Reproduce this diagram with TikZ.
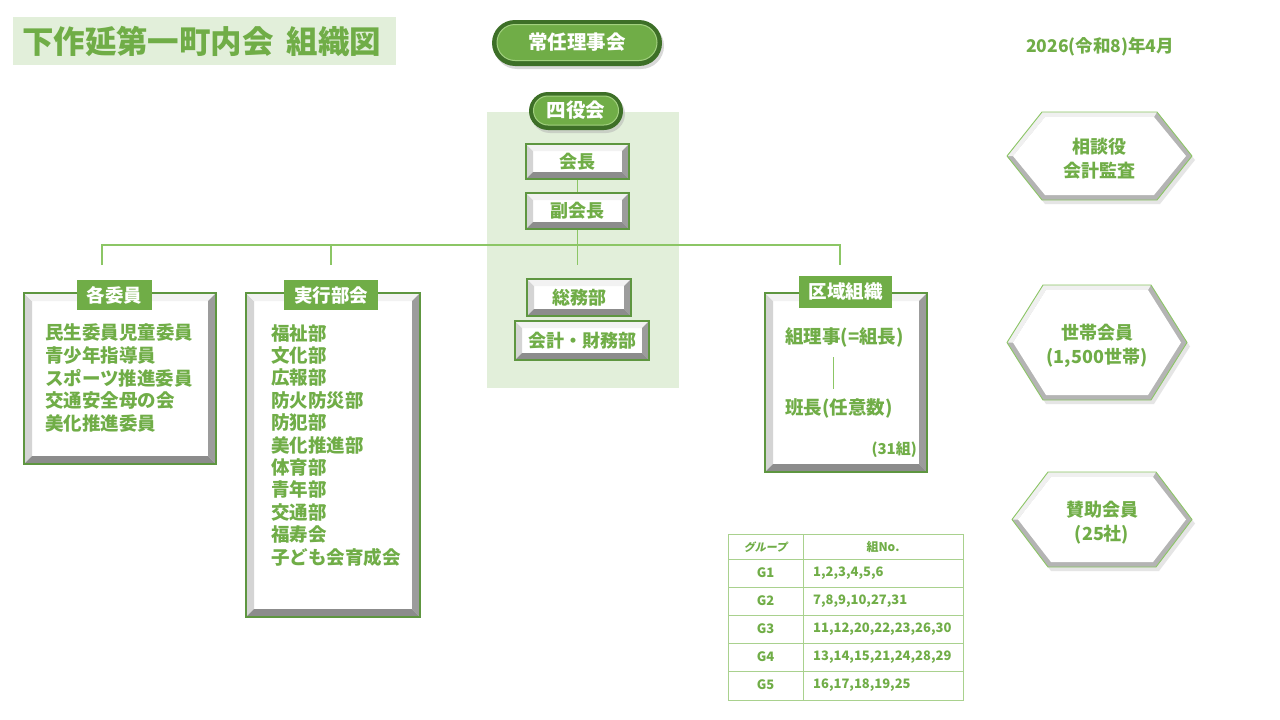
\documentclass[tikz,border=0pt]{standalone}
\usepackage{fontspec}
\setmainfont{Noto Sans CJK JP}
\usetikzlibrary{calc,shapes.misc}
\definecolor{gtext}{HTML}{70AD47}
\definecolor{gpale}{HTML}{E2EFDA}
\definecolor{gline}{HTML}{8CC665}
\definecolor{gdark}{HTML}{5E9640}
\definecolor{gtable}{HTML}{A9D18E}
\definecolor{pilldark}{HTML}{3D6F27}
\definecolor{pilllite}{HTML}{A2D07F}
\definecolor{bevL}{HTML}{D4D4D4}
\definecolor{bevT}{HTML}{F2F2F2}
\definecolor{bevR}{HTML}{9C9C9C}
\definecolor{bevB}{HTML}{8C8C8C}
\definecolor{hexR}{HTML}{B4B4B4}
\definecolor{hexT}{HTML}{F0F0F0}
\newcommand\hexshape[7]{%
 \pgfmathsetmacro\hxa{#2}\pgfmathsetmacro\hya{#3}\pgfmathsetmacro\hxb{#4}\pgfmathsetmacro\hyb{#5}\pgfmathsetmacro\hin{#6}%
 \pgfmathsetmacro\hym{(\hya+\hyb)/2}%
 \fill[black!25,opacity=.4] (\hxa+3,\hym+4) -- (\hxa+\hin+3,\hya+4) -- (\hxb-\hin+3,\hya+4) -- (\hxb+3,\hym+4) -- (\hxb-\hin+3,\hyb+4) -- (\hxa+\hin+3,\hyb+4) -- cycle;
 \fill[hexR] (\hxa,\hym) -- (\hxa+\hin,\hya) -- (\hxb-\hin,\hya) -- (\hxb,\hym) -- (\hxb-\hin,\hyb) -- (\hxa+\hin,\hyb) -- cycle;
 \fill[hexT] (\hxa,\hym) -- (\hxa+\hin,\hya) -- (\hxb-\hin,\hya) -- (\hxb-\hin-3,\hya+5) -- (\hxa+\hin+3,\hya+5) -- (\hxa+6,\hym) -- cycle;
 \fill[white] (\hxa+6,\hym) -- (\hxa+\hin+3,\hya+5) -- (\hxb-\hin-3,\hya+5) -- (\hxb-6,\hym) -- (\hxb-\hin-3,\hyb-5) -- (\hxa+\hin+3,\hyb-5) -- cycle;
 \draw[gline,line width=0.9pt,line join=round] (\hxa,\hym) -- (\hxa+\hin,\hya) -- (\hxb-\hin,\hya) -- (\hxb,\hym) -- (\hxb-\hin,\hyb) -- (\hxa+\hin,\hyb) -- cycle;
 \node[hextext] (#1) at ({(\hxa+\hxb)/2},{\hym+3}) {#7};
}
\begin{document}
\begin{tikzpicture}[x=1pt,y=-1pt,
  bw/.store in=\bevw, bw=7pt,
  bev/.style={draw=gdark, line width=1.2pt, fill=white, inner sep=0pt, text=gtext,
    font=\bfseries\fontsize{18}{22}\selectfont,
    path picture={
      \path (path picture bounding box.south west) coordinate (psw)
            (path picture bounding box.north east) coordinate (pne)
            (path picture bounding box.north west) coordinate (pnw)
            (path picture bounding box.south east) coordinate (pse);
      \fill[bevL] (psw) -- (pnw) -- ($(pnw)+(\bevw,-\bevw)$) -- ($(psw)+(\bevw,\bevw)$) -- cycle;
      \fill[bevT] (pnw) -- (pne) -- ($(pne)+(-\bevw,-\bevw)$) -- ($(pnw)+(\bevw,-\bevw)$) -- cycle;
      \fill[bevR] (pne) -- (pse) -- ($(pse)+(-\bevw,\bevw)$) -- ($(pne)+(-\bevw,-\bevw)$) -- cycle;
      \fill[bevB] (psw) -- (pse) -- ($(pse)+(-\bevw,\bevw)$) -- ($(psw)+(\bevw,\bevw)$) -- cycle;
    }},
  tab/.style={fill=gtext, text=white, inner sep=0pt, font=\bfseries\fontsize{18.5}{22}\selectfont},
  item/.style={anchor=west, inner sep=0pt, text=gtext, font=\bfseries\fontsize{18.5}{22}\selectfont},
  pillout/.style={rounded rectangle, fill=pilldark, inner sep=0pt},
  pillshadow/.style={rounded rectangle, fill=black!30, opacity=.5, inner sep=0pt},
  pillin/.style={rounded rectangle, fill=gtext, draw=pilllite, line width=1pt, inner sep=0pt, text=white,
    font=\bfseries\fontsize{19.5}{22}\selectfont},
  hextext/.style={align=center, text=gtext, inner sep=0pt, font=\bfseries\fontsize{18}{24}\selectfont},
  conn/.style={draw=gline, line width=1.6pt},
  tbl/.style={draw=gtable, line width=1pt},
  cell/.style={text=gtext, inner sep=0pt, font=\bfseries\fontsize{13}{15}\selectfont}
]
\useasboundingbox (0,0) rectangle (1280,720);
\fill[white] (0,0) rectangle (1280,720);

% title
\node[fill=gpale, minimum width=383pt, minimum height=48pt, text width=365pt, align=left, inner sep=0pt,
  text=gtext, font=\bfseries\fontsize{31.5}{34}\selectfont] (title) at (204.5,41) {下作延第一町内会\hspace{0.4em}組織図};

% date
\node[text=gtext, inner sep=0pt, font=\bfseries\fontsize{17.5}{20}\selectfont] (date) at (1100,47) {2026(令和8)年4月};

% 常任理事会
\node[pillshadow, minimum width=170pt, minimum height=46pt] (joninsh) at (579,46) {};
\node[pillout, minimum width=170pt, minimum height=46pt] (jonin0) at (577,43) {};
\node[pillin, minimum width=160pt, minimum height=36pt] (jonin) at (577,42.5) {常任理事会};

% panel
\fill[gpale] (487,112) rectangle (679,388);

% 四役会
\node[pillshadow, minimum width=94pt, minimum height=38pt] (yonsh) at (578,114) {};
\node[pillout, minimum width=94pt, minimum height=38pt] (yon0) at (576,111) {};
\node[pillin, minimum width=85pt, minimum height=29pt] (yon) at (576,110.5) {四役会};

% 会長, 副会長
\node[bev, minimum width=103pt, minimum height=35pt] (kaicho) at (577.5,161.5) {会長};
\node[bev, minimum width=103pt, minimum height=36pt] (fuku) at (577.5,211) {副会長};
\draw[conn] (kaicho) -- (fuku);

% bus
\coordinate (bL) at (102,245);
\coordinate (bR) at (840,245);
\coordinate (bJ) at (331,245);
\coordinate (cL) at (102,265);
\coordinate (cR) at (840,265);
\coordinate (cJ) at (331,265);
\coordinate (cC) at (577.5,265);
\draw[conn] (cL) -- (bL) -- (bR) -- (cR);
\draw[conn] (bJ) -- (cJ);
\draw[conn] (fuku.south) -- (cC);

% 総務部, 会計・財務部
\node[bev, minimum width=104pt, minimum height=37pt] (somu) at (579,297.5) {総務部};
\node[bev, minimum width=134pt, minimum height=39pt] (kaikei) at (582,340.5) {会計・財務部};

% 各委員
\node[bev, bw=8pt, minimum width=192pt, minimum height=171pt] (iin) at (120,378.5) {};
\node[tab, minimum width=75pt, minimum height=30pt] (iintab) at (114.5,295) {各委員};
\foreach \t [count=\i] in {民生委員児童委員,青少年指導員,スポーツ推進委員,交通安全母の会,美化推進委員}
  \node[item] (iin\i) at (45,{333+22.5*(\i-1)}) {\t};

% 実行部会
\node[bev, bw=8pt, minimum width=174pt, minimum height=324pt] (jikko) at (333,455) {};
\node[tab, minimum width=94pt, minimum height=30pt] (jikkotab) at (331,295) {実行部会};
\foreach \t [count=\i] in {福祉部,文化部,広報部,防火防災部,防犯部,美化推進部,体育部,青年部,交通部,福寿会,子ども会育成会}
  \node[item] (jk\i) at (271,{333+22.4*(\i-1)}) {\t};

% 区域組織
\node[bev, bw=8pt, minimum width=162pt, minimum height=179pt] (kuiki) at (846,382.5) {};
\node[tab, minimum width=93pt, minimum height=32pt] (kuikitab) at (845.5,292) {区域組織};
\node[item] (kumi) at (785,337) {組理事(=組長)};
\node[item] (han) at (785,408) {班長(任意数)};
\node[anchor=east, inner sep=0pt, text=gtext, font=\bfseries\fontsize{15}{18}\selectfont] (k31) at (917,450) {(31組)};
\coordinate (k1) at (833,357);
\coordinate (k2) at (833,389);
\draw[draw=gline, line width=1pt] (k1) -- (k2);

% hexagons
\hexshape{soudan}{1007}{112}{1192}{200}{35}{相談役\\会計監査}
\hexshape{setai}{1007}{285}{1187}{400}{36}{世帯会員\\(1,500世帯)}
\hexshape{sanjo}{1012}{472}{1192}{567}{36}{賛助会員\\(25社)}

% table
\draw[tbl] (728,534) rectangle (963,700);
\foreach \yy in {559,587,615,643,671} \draw[tbl] (728,\yy) -- (963,\yy);
\draw[tbl] (803,534) -- (803,700);
\node[text=gtext, inner sep=0pt, font=\bfseries\fontsize{11}{13}\selectfont\addfontfeature{FakeSlant=0.2}] (th1) at (765.5,547) {グループ};
\node[text=gtext, inner sep=0pt, font=\bfseries\fontsize{12}{14}\selectfont] (th2) at (883,547) {組No.};
\foreach \g/\v [count=\i] in {G1/{1,2,3,4,5,6},G2/{7,8,9,10,27,31},G3/{11,12,20,22,23,26,30},G4/{13,14,15,21,24,28,29},G5/{16,17,18,19,25}} {
  \node[cell] (g\i) at (765.5,{573+28*(\i-1)}) {\g};
  \node[cell, anchor=west] (v\i) at (813,{573+28*(\i-1)}) {\v};
}
\end{tikzpicture}
\end{document}
